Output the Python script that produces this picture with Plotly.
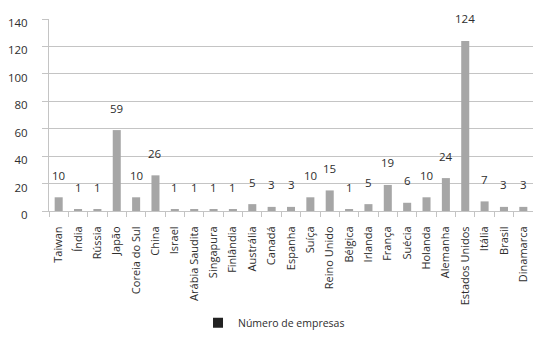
import plotly.graph_objects as go

categories = ["Taiwan", "Índia", "Rússia", "Japão", "Coreia do Sul", "China", "Israel",
              "Arábia Saudita", "Singapura", "Finlândia", "Austrália", "Canadá", "Espanha",
              "Suíça", "Reino Unido", "Bélgica", "Irlanda", "França", "Suécia", "Holanda",
              "Alemanha", "Estados Unidos", "Itália", "Brasil", "Dinamarca"]
values = [10, 1, 1, 59, 10, 26, 1, 1, 1, 1, 5, 3, 3, 10, 15, 1, 5, 19, 6, 10, 24, 124, 7, 3, 3]
series_name = "Número de empresas"
y_ticks = [0, 20, 40, 60, 80, 100, 120, 140]

FONT = "Open Sans"
TXT = "#2e2e2e"
GRID = "#c4c4c4"

fig = go.Figure()
fig.add_trace(go.Bar(x=categories, y=values, marker=dict(color="#a6a6a6", line=dict(width=0)),
                     showlegend=False, name=series_name, hoverinfo="x+y"))
# legend entry (black square)
fig.add_trace(go.Scatter(x=[None], y=[None], mode="markers", name=series_name,
                         marker=dict(symbol="square", size=10, color="#222222")))

for c, v in zip(categories, values):
    fig.add_annotation(x=c, y=v, text=str(v), showarrow=False, yanchor="middle", yshift=22,
                       font=dict(family=FONT, size=11.5, color=TXT))

fig.update_layout(
    width=533, height=338,
    margin=dict(l=49, r=0, t=19, b=127),
    paper_bgcolor="white", plot_bgcolor="white",
    bargap=0.585,
    font=dict(family=FONT, size=11, color=TXT),
    showlegend=True,
    legend=dict(orientation="h", xref="container", yref="container", x=0.3715, y=0.045,
                xanchor="left", yanchor="middle", font=dict(family=FONT, size=10.5, color=TXT),
                bgcolor="rgba(0,0,0,0)"),
    xaxis=dict(type="category", tickangle=-90, showline=True, linecolor=GRID, linewidth=1,
               ticks="outside", tickson="boundaries", ticklen=5, tickcolor=GRID,
               showgrid=False, tickfont=dict(family=FONT, size=11, color=TXT),
               ticklabelstandoff=10,
               range=[-0.5, len(categories) - 0.5]),
    yaxis=dict(range=[0, 140], tickvals=y_ticks, showgrid=True, gridcolor=GRID, gridwidth=1,
               showline=True, linecolor=GRID, ticks="outside", ticklen=6, tickcolor=GRID,
               ticklabelstandoff=12, ticklabelshift=4,
               zeroline=False, tickfont=dict(family=FONT, size=11.5, color=TXT)),
)

fig.write_html("out.html")
